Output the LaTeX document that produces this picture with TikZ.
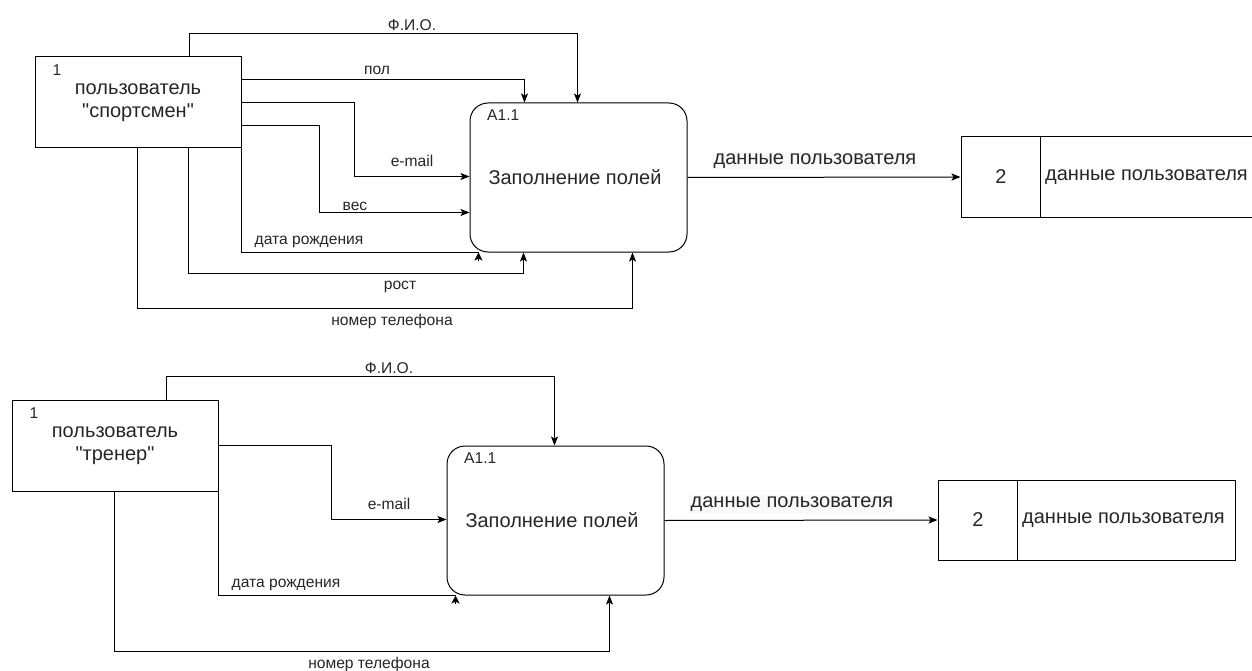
\documentclass[tikz,border=0pt]{standalone}
\usepackage{fontspec}
\setmainfont{Liberation Sans}
% same face without the TeX mapping, so that " stays a straight quote
\newfontfamily\plainfont{Liberation Sans}
\usetikzlibrary{arrows.meta,calc}

\newcommand{\bigtxt}{\fontsize{20}{23}\selectfont}
\newcommand{\smalltxt}{\fontsize{15.6}{18}\selectfont}

\tikzset{
  every node/.style={text=black!85},
  entity/.style={draw, line width=1pt, inner sep=0pt, minimum width=206pt, minimum height=91pt,
                 align=center, font=\plainfont\bigtxt},
  process/.style={draw, line width=1pt, rounded corners=18pt, inner sep=0pt,
                  minimum width=217pt, minimum height=149pt},
  store/.style={draw, line width=1pt, inner sep=0pt, minimum width=297pt, minimum height=80pt},
  flow/.style={line width=1pt, -{Stealth[length=9pt,width=7pt,inset=2pt]}},
  wire/.style={line width=1pt},
  tip/.style={line width=1pt, -{Stealth[length=8pt,width=8pt,inset=2pt]}},
  lbl/.style={font=\smalltxt, inner sep=0pt},
  biglbl/.style={font=\bigtxt, inner sep=1pt},
  outlbl/.style={font=\bigtxt, inner sep=1.5pt, fill=gray!5},
}

\begin{document}
\begin{tikzpicture}[x=1pt, y=-1pt]
\path[use as bounding box] (0,0) rectangle (1252,671);

% ---------- athlete ----------
\node[entity] (e1) at (138,102.5) {пользователь\\"спортсмен"};
\node[lbl] (e1n) at (57,70) {1};
\node[process] (p1) at (578.5,177.5) {};
\node[lbl, anchor=west] (p1n) at (487,115) {A1.1};
\node[biglbl] (p1t) at (575,177) {Заполнение полей};
\node[store] (s1) at (1109.5,177) {};
\draw[wire] ($(s1.north west)+(80,0)$) -- ($(s1.south west)+(80,0)$);
\node[biglbl] (s1n) at (1001,177) {2};
\node[biglbl, anchor=west] (s1t) at (1044,177) {данные пользователя};

\draw[flow] ($(e1.north west)+(155,0)$) -- ++(0,-23) -| ($(p1.north west)+(108,0)$);
\draw[flow] ($(e1.north east)+(0,23)$) -| ($(p1.north west)+(55,0)$);
\draw[flow] ($(e1.north east)+(0,46)$) -| ($(p1.north west)+(-115,74)$) |- ($(p1.north west)+(0,74)$);
\draw[flow] ($(e1.north east)+(0,69)$) -| ($(p1.north west)+(-150,110)$) |- ($(p1.north west)+(0,110)$);
\draw[wire] (e1.south east) |- ($(p1.south west)+(9,0)$);
\draw[tip] ($(p1.south west)+(9,8)$) -- ($(p1.south west)+(9,0)$);
\draw[flow] ($(e1.south west)+(154,0)$) -- ++(0,125) -| ($(p1.south west)+(54,0)$);
\draw[flow] ($(e1.south west)+(103,0)$) -- ++(0,160) -| ($(p1.south west)+(163,0)$);
\draw[flow] (p1.east) -- (s1.west);

\node[lbl] (l1) at (412,25) {Ф.И.О.};
\node[lbl] (l2) at (377,70) {пол};
\node[lbl] (l3) at (412,161) {e-mail};
\node[lbl] (l4) at (355,206) {вес};
\node[lbl] (l5) at (309,242) {дата рождения};
\node[lbl] (l6) at (400,287) {рост};
\node[lbl] (l7) at (392,321) {номер телефона};
\node[outlbl] (l8) at (815,161) {данные пользователя};

% ---------- coach ----------
\node[entity] (e2) at (115,445.5) {пользователь\\"тренер"};
\node[lbl] (e2n) at (34,413) {1};
\node[process] (p2) at (555.5,520.5) {};
\node[lbl, anchor=west] (p2n) at (464,458) {A1.1};
\node[biglbl] (p2t) at (552,520) {Заполнение полей};
\node[store] (s2) at (1086.5,520) {};
\draw[wire] ($(s2.north west)+(80,0)$) -- ($(s2.south west)+(80,0)$);
\node[biglbl] (s2n) at (978,520) {2};
\node[biglbl, anchor=west] (s2t) at (1021,520) {данные пользователя};

\draw[flow] ($(e2.north west)+(155,0)$) -- ++(0,-23) -| ($(p2.north west)+(108,0)$);
\draw[flow] ($(e2.north east)+(0,46)$) -| ($(p2.north west)+(-115,74)$) |- ($(p2.north west)+(0,74)$);
\draw[wire] (e2.south east) |- ($(p2.south west)+(9,0)$);
\draw[tip] ($(p2.south west)+(9,8)$) -- ($(p2.south west)+(9,0)$);
\draw[flow] ($(e2.south west)+(103,0)$) -- ++(0,160) -| ($(p2.south west)+(163,0)$);
\draw[flow] (p2.east) -- (s2.west);

\node[lbl] (m1) at (389,368) {Ф.И.О.};
\node[lbl] (m3) at (389,504) {e-mail};
\node[lbl] (m5) at (286,585) {дата рождения};
\node[lbl] (m7) at (369,664) {номер телефона};
\node[outlbl] (m8) at (792,504) {данные пользователя};
\end{tikzpicture}
\end{document}
